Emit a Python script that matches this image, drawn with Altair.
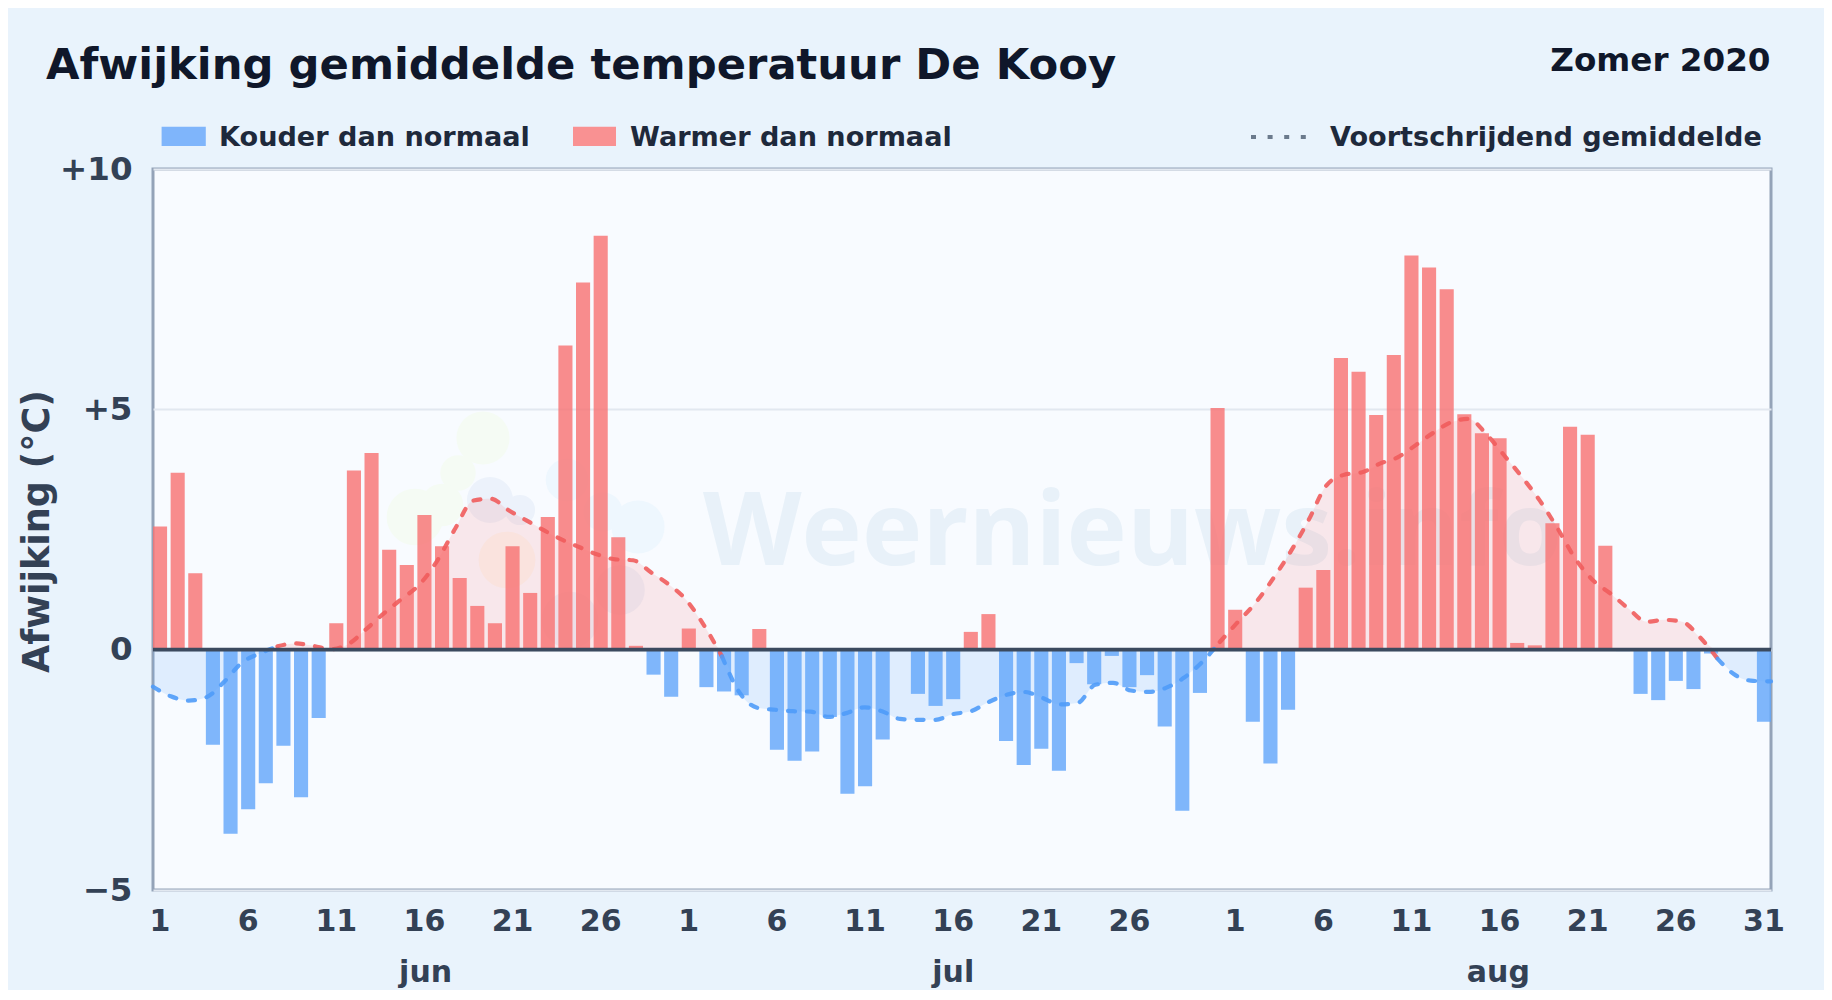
import altair as alt
import pandas as pd

# ---- data -----------------------------------------------------------------
jun_dev = [2.56, 3.68, 1.59, -1.98, -3.83, -3.32, -2.78, -2.00, -3.07, -1.42,
           0.55, 3.73, 4.09, 2.08, 1.76, 2.80, 2.15, 1.49, 0.91, 0.55,
           2.15, 1.18, 2.76, 6.33, 7.64, 8.61, 2.34, 0.08, -0.52, -0.98]
jul_dev = [0.44, -0.78, -0.87, -0.95, 0.43, -2.08, -2.31, -2.12, -1.40, -3.00,
           -2.84, -1.87, 0.00, -0.92, -1.17, -1.03, 0.37, 0.74, -1.90, -2.40,
           -2.06, -2.52, -0.28, -0.72, -0.13, -0.78, -0.53, -1.60, -3.35, -0.90, 5.03]
aug_dev = [0.83, -1.50, -2.37, -1.25, 1.29, 1.66, 6.07, 5.78, 4.88, 6.13,
           8.20, 7.95, 7.50, 4.90, 4.50, 4.40, 0.14, 0.09, 2.63, 4.64,
           4.47, 2.16, -0.03, -0.92, -1.05, -0.65, -0.82, -0.08, 0.00, -0.03, -1.50]

moving_avg = [-0.77, -0.97, -1.06, -0.99, -0.67, -0.27, -0.08, 0.07, 0.13, 0.08,
              0.01, 0.12, 0.43, 0.76, 1.06, 1.36, 1.86, 2.52, 3.10, 3.14,
              2.90, 2.69, 2.48, 2.29, 2.13, 1.98, 1.88, 1.86, 1.61, 1.36,
              1.03, 0.50, -0.14, -0.90, -1.21, -1.25, -1.28, -1.29, -1.40, -1.32,
              -1.20, -1.28, -1.44, -1.46, -1.46, -1.34, -1.28, -1.09, -0.94, -0.88,
              -1.00, -1.14, -1.11, -0.73, -0.69, -0.85, -0.88, -0.79, -0.58, -0.26,
              0.16, 0.57, 0.97, 1.48, 2.05, 2.70, 3.42, 3.64, 3.69, 3.87,
              4.00, 4.25, 4.51, 4.73, 4.80, 4.48, 4.04, 3.59, 3.10, 2.52,
              1.89, 1.44, 1.16, 0.85, 0.58, 0.62, 0.58, 0.26, -0.19, -0.53,
              -0.65, -0.66]

labelled_days = ["06-01", "06-06", "06-11", "06-16", "06-21", "06-26",
                 "07-01", "07-06", "07-11", "07-16", "07-21", "07-26",
                 "08-01", "08-06", "08-11", "08-16", "08-21", "08-26", "08-31"]
month_names = ["jun", "jul", "aug"]
month_centres = ["06-16", "07-16", "08-16"]
y_ticks = [-5, 0, 5, 10]

# ---- tables ---------------------------------------------------------------
days = ([f"06-{d:02d}" for d in range(1, 31)]
        + [f"07-{d:02d}" for d in range(1, 32)]
        + [f"08-{d:02d}" for d in range(1, 32)])
bars_df = pd.DataFrame({"day": days, "dev": jun_dev + jul_dev + aug_dev})

avg_df = pd.DataFrame({"i": range(len(moving_avg)), "avg": moving_avg})
avg_df["above"] = avg_df["avg"].clip(lower=0)
avg_df["below"] = avg_df["avg"].clip(upper=0)
prev = avg_df["avg"].shift(1)
avg_df["red"] = avg_df["avg"].where((avg_df["avg"] >= 0) | (prev >= 0))
avg_df["blue"] = avg_df["avg"].where((avg_df["avg"] < 0) | (prev < 0))

months_df = pd.DataFrame({"day": month_centres, "name": month_names})

# ---- look -----------------------------------------------------------------
FONT = "DejaVu Sans"
W, H = 1618, 721
RED, BLUE = "#f87171", "#60a5fa"
INK, SLATE, DARK = "#0f172a", "#334155", "#1e293b"
BG, PLOT = "#e9f3fc", "#f8fbff"

y_scale = alt.Scale(domain=[-5, 10], nice=False, zero=False)
y_axis = alt.Axis(
    values=y_ticks, title="Afwijking (°C)", titleFont=FONT, titleFontSize=36.5,
    titleFontWeight="bold", titleColor=SLATE, titleX=-96.5, titleY=362, titleAngle=270,
    labelFont=FONT, labelFontSize=32.5, labelFontWeight="bold", labelColor=SLATE,
    labelPadding=21, ticks=False, domain=False, grid=True, gridColor="#e2e8f0",
    gridWidth=1.8, labelFlush=False,
    labelExpr="datum.value > 0 ? '+' + datum.value : datum.value < 0 ? '\u2212' + abs(datum.value) : '0'",
)
x_band_scale = alt.Scale(domain=days, paddingInner=0.2, paddingOuter=0)
x_band_axis = alt.Axis(
    values=labelled_days, title=None, labelFont=FONT, labelFontSize=30,
    labelFontWeight="bold", labelColor=SLATE, labelAngle=0, labelPadding=16,
    labelOverlap=False, ticks=False, domain=False, grid=False, labelFlush=False,
    labelExpr="toNumber(split(datum.value, '-')[1])",
)
x_line = alt.X("i:Q", scale=alt.Scale(domain=[0, 91], nice=False, zero=False), axis=None)
blank = alt.Data(values=[{}])


def deco_text(text, x, y, size, color, align="left", font=FONT, weight="bold"):
    return alt.Chart(blank).mark_text(
        text=text, font=font, fontSize=size, fontWeight=weight, color=color,
        align=align, baseline="alphabetic",
    ).encode(x=alt.value(x), y=alt.value(y))


def blob(cx, cy, r, color):
    return alt.Chart(blank).mark_circle(size=3.1416 * r * r, color=color, opacity=1).encode(
        x=alt.value(cx - 153), y=alt.value(cy - 169))


# faint watermark logo and name
GREEN_BLOB, SKY_BLOB, SLATE_BLOB, SAND_BLOB = "#f5fbf4", "#eef7fe", "#ecf2fb", "#fbf6f0"
logo = [
    blob(483, 438, 30, GREEN_BLOB), blob(458, 473, 20, GREEN_BLOB), blob(415, 517, 32, GREEN_BLOB),
    blob(442, 505, 24, GREEN_BLOB),
    blob(567, 480, 24, SKY_BLOB), blob(603, 512, 22, SKY_BLOB), blob(638, 527, 30, SKY_BLOB),
    blob(620, 590, 28, SLATE_BLOB), blob(570, 620, 32, SLATE_BLOB),
    blob(507, 560, 32, SAND_BLOB), blob(490, 500, 26, SLATE_BLOB), blob(520, 510, 17, SLATE_BLOB),
]
watermark = deco_text("Weernieuws.info", 703 - 153, 565 - 169, 102, "#e8f1f9",
                      font="Open Sans", weight="bold")

first_area = alt.Chart(avg_df).mark_area(color=RED, opacity=0.14, interpolate="monotone").encode(
    x=x_line, y=alt.Y("above:Q", scale=y_scale, axis=y_axis), y2=alt.Y2(datum=0))
second_area = alt.Chart(avg_df).mark_area(color=BLUE, opacity=0.16, interpolate="monotone").encode(
    x=x_line, y=alt.Y("below:Q", scale=y_scale, axis=y_axis), y2=alt.Y2(datum=0))

bars = alt.Chart(bars_df).mark_bar(opacity=0.8).encode(
    x=alt.X("day:N", scale=x_band_scale, axis=x_band_axis, sort=days),
    y=alt.Y("dev:Q", scale=y_scale, axis=y_axis),
    color=alt.condition("datum.dev >= 0", alt.value(RED), alt.value(BLUE)),
)

red_line = alt.Chart(avg_df).mark_line(
    color="#f05c5c", strokeWidth=4.2, strokeDash=[7, 12], strokeCap="round",
    interpolate="monotone", opacity=0.9,
).encode(x=x_line, y=alt.Y("red:Q", scale=y_scale, axis=y_axis))
blue_line = alt.Chart(avg_df).mark_line(
    color="#4f9bf8", strokeWidth=4.2, strokeDash=[7, 12], strokeCap="round",
    interpolate="monotone", opacity=0.9,
).encode(x=x_line, y=alt.Y("blue:Q", scale=y_scale, axis=y_axis))

zero_rule = alt.Chart(blank).mark_rule(color="#3b4a5f", strokeWidth=3.8).encode(
    y=alt.Y(datum=0, scale=y_scale, axis=y_axis))

month_labels = alt.Chart(months_df).mark_text(
    font=FONT, fontSize=30, fontWeight="bold", color=SLATE, baseline="alphabetic"
).encode(
    x=alt.X("day:N", scale=x_band_scale, axis=None),
    y=alt.value(981.7 - 169),
    text="name:N",
)

# title row and hand-placed legend row
title = deco_text("Afwijking gemiddelde temperatuur De Kooy", 46 - 153, 79.3 - 169, 43.3, INK)
season = deco_text("Zomer 2020", 1770.5 - 153, 70.5 - 169, 32.6, INK, align="right")
swatch_blue = alt.Chart(blank).mark_rect(color="#7fb5fb").encode(
    x=alt.value(161.6 - 153), x2=alt.value(205.8 - 153), y=alt.value(126.7 - 169), y2=alt.value(146 - 169))
swatch_red = alt.Chart(blank).mark_rect(color="#f99192").encode(
    x=alt.value(573 - 153), x2=alt.value(616 - 153), y=alt.value(126.7 - 169), y2=alt.value(146 - 169))
dots = alt.Chart(blank).mark_rule(color="#6b7a8c", strokeWidth=4, strokeDash=[5, 11.6]).encode(
    x=alt.value(1251 - 153), x2=alt.value(1306 - 153), y=alt.value(137 - 169))
legend_a = deco_text("Kouder dan normaal", 219 - 153, 146 - 169, 27.1, DARK)
legend_b = deco_text("Warmer dan normaal", 630 - 153, 146 - 169, 27.1, DARK)
legend_c = deco_text("Voortschrijdend gemiddelde", 1330 - 153, 146 - 169, 27.1, DARK)

chart = alt.layer(
    *logo, watermark, first_area, second_area, bars, red_line, blue_line, zero_rule, month_labels,
    title, season, swatch_blue, swatch_red, dots, legend_a, legend_b, legend_c,
).resolve_scale(x="independent").properties(
    width=W, height=H,
    background=BG,
    padding={"left": 145, "top": 161, "right": 53, "bottom": 100},
    autosize=alt.AutoSizeParams(type="none"),
).configure_view(fill=PLOT, stroke="#94a3b8", strokeWidth=3)

chart.save("out.html", embed_options={"renderer": "svg", "actions": False})
